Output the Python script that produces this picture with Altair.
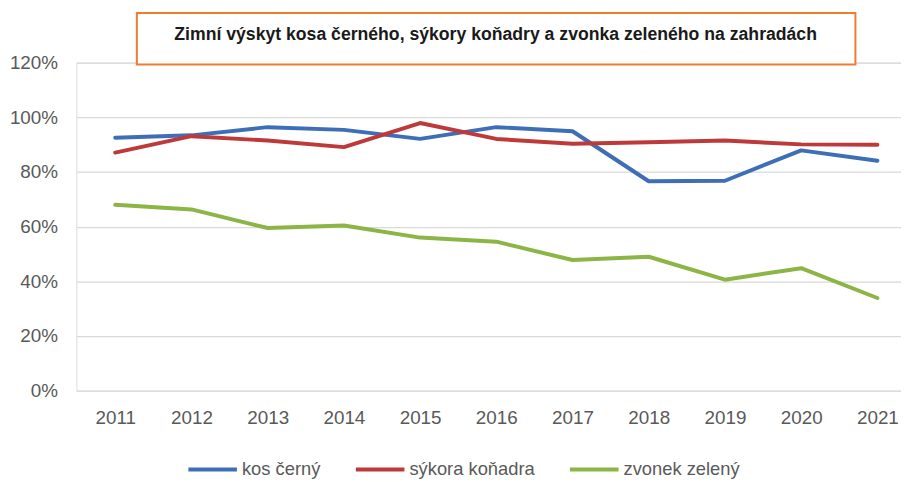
import altair as alt
import pandas as pd

years = list(range(2011, 2022))
kos_cerny = [92.5, 93.4, 96.4, 95.4, 92.1, 96.4, 94.9, 76.6, 76.8, 87.9, 84.1]
sykora_konadra = [87.1, 93.1, 91.5, 89.1, 97.9, 92.1, 90.3, 90.9, 91.5, 90.1, 90.0]
zvonek_zeleny = [68.0, 66.3, 59.5, 60.4, 56.0, 54.5, 47.8, 49.0, 40.6, 44.8, 33.9]
series_names = ["kos černý", "sýkora koňadra", "zvonek zelený"]
series_colors = ["#3E6FB6", "#BE3A3A", "#8CB545"]
title_text = "Zimní výskyt kosa černého, sýkory koňadry a zvonka zeleného na zahradách"

rows = []
for name, vals in zip(series_names, [kos_cerny, sykora_konadra, zvonek_zeleny]):
    for y, v in zip(years, vals):
        rows.append({"rok": y, "hodnota": v / 100.0, "druh": name})
df = pd.DataFrame(rows)

FONT = "Liberation Sans"
LABEL_COLOR = "#595959"

lines = alt.Chart(df).mark_line(strokeWidth=4, strokeCap="round", strokeJoin="round").encode(
    x=alt.X("rok:Q",
            scale=alt.Scale(domain=[2010.49, 2021.31], nice=False, zero=False),
            axis=alt.Axis(values=years, format="d", title=None, grid=False, domain=False,
                          ticks=False, labelFont=FONT, labelFontSize=19,
                          labelColor=LABEL_COLOR, labelPadding=18)),
    y=alt.Y("hodnota:Q",
            scale=alt.Scale(domain=[0, 1.2], nice=False),
            axis=alt.Axis(values=[0, 0.2, 0.4, 0.6, 0.8, 1.0, 1.2], format=".0%", title=None,
                          domain=False, ticks=False, gridColor="#D9D9D9", gridWidth=1.2,
                          labelFont=FONT, labelFontSize=19, labelColor=LABEL_COLOR,
                          labelPadding=19)),
    color=alt.Color("druh:N",
                    scale=alt.Scale(domain=series_names, range=series_colors),
                    legend=alt.Legend(title=None, orient="none", direction="horizontal",
                                      legendX=111, legendY=384,
                                      symbolType="stroke", symbolSize=2401,
                                      symbolStrokeWidth=4, labelOffset=3,
                                      columnPadding=27, labelFont=FONT, labelFontSize=18.5,
                                      labelColor=LABEL_COLOR)),
    order="rok:Q",
)

tdf = pd.DataFrame({"t": [title_text]})
box = alt.Chart(tdf).mark_rect(fill="white", stroke="#ED7D31", strokeWidth=2).encode(
    x=alt.value(61), x2=alt.value(786), y=alt.value(-50), y2=alt.value(2)
)
title = alt.Chart(tdf).mark_text(font=FONT, fontSize=17.8, fontWeight="bold", color="#1a1a1a",
                                 align="center", baseline="middle").encode(
    text="t:N", x=alt.value(423), y=alt.value(-28)
)

chart = alt.layer(lines, box, title).properties(
    width=832, height=331,
    padding={"left": 69, "top": 53, "right": 0, "bottom": 89},
    autosize=alt.AutoSizeParams(type="none"),
).configure_view(stroke=None).configure(background="white")

chart.save("out.html", embed_options={"renderer": "svg", "actions": False})
